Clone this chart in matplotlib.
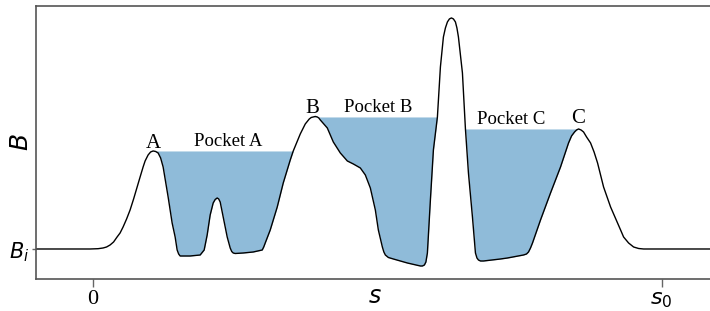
"""Sketch of the field strength B along s with three trapping pockets A, B and C."""

import matplotlib
matplotlib.use('Agg')
import matplotlib.pyplot as plt
import numpy as np

# B(s); s runs from 0 to s0 = 5.68, B_i = 1
s_vals = [-0.63, -0.03, 0.05, 0.10, 0.135, 0.17, 0.205, 0.24, 0.27, 0.30,
          0.335, 0.37, 0.405, 0.44, 0.47, 0.50, 0.52, 0.55, 0.575, 0.60,
          0.625, 0.65, 0.675, 0.70, 0.75, 0.79, 0.82, 0.84, 0.855, 0.87,
          0.90, 0.97, 1.07, 1.11, 1.14, 1.17, 1.20, 1.22, 1.24, 1.255,
          1.27, 1.30, 1.34, 1.37, 1.385, 1.40, 1.42, 1.50, 1.60, 1.69,
          1.705, 1.72, 1.77, 1.84, 1.90, 1.97, 2.00, 2.07, 2.12, 2.16,
          2.18, 2.20, 2.22, 2.24, 2.255, 2.27, 2.34, 2.40, 2.47, 2.54,
          2.60, 2.67, 2.72, 2.77, 2.82, 2.85, 2.89, 2.905, 2.92, 2.95,
          3.00, 3.14, 3.27, 3.29, 3.31, 3.325, 3.34, 3.37, 3.40, 3.44,
          3.47, 3.50, 3.52, 3.54, 3.56, 3.58, 3.60, 3.62, 3.635, 3.65,
          3.69, 3.72, 3.75, 3.79, 3.82, 3.835, 3.85, 3.87, 3.90, 4.07,
          4.14, 4.30, 4.33, 4.35, 4.37, 4.39, 4.47, 4.57, 4.67, 4.75,
          4.78, 4.81, 4.83, 4.85, 4.875, 4.90, 4.93, 4.97, 5.005, 5.04,
          5.07, 5.10, 5.135, 5.17, 5.205, 5.24, 5.27, 5.30, 5.35, 5.40,
          5.45, 5.50, 6.50]
b_vals = [1.00, 1.00, 1.003, 1.01, 1.02, 1.04, 1.07, 1.12, 1.16, 1.22,
          1.30, 1.39, 1.50, 1.62, 1.72, 1.82, 1.88, 1.94, 1.97, 1.98,
          1.975, 1.96, 1.91, 1.82, 1.52, 1.26, 1.12, 0.99, 0.95, 0.93,
          0.93, 0.93, 0.94, 0.99, 1.14, 1.34, 1.46, 1.495, 1.51, 1.50,
          1.47, 1.32, 1.12, 1.01, 0.975, 0.96, 0.955, 0.96, 0.97, 0.99,
          1.02, 1.06, 1.19, 1.42, 1.66, 1.89, 1.98, 2.15, 2.25, 2.30,
          2.315, 2.32, 2.325, 2.32, 2.31, 2.29, 2.21, 2.07, 1.96, 1.88,
          1.85, 1.81, 1.74, 1.61, 1.39, 1.19, 1.02, 0.97, 0.94, 0.915,
          0.90, 0.86, 0.83, 0.83, 0.84, 0.87, 0.96, 1.49, 1.99, 2.32,
          2.82, 3.12, 3.21, 3.27, 3.30, 3.31, 3.30, 3.27, 3.21, 3.12,
          2.76, 2.20, 1.76, 1.32, 0.96, 0.91, 0.89, 0.88, 0.88, 0.90,
          0.91, 0.94, 0.95, 0.97, 1.01, 1.06, 1.29, 1.56, 1.82, 2.06,
          2.13, 2.17, 2.19, 2.20, 2.19, 2.17, 2.12, 2.06, 1.97, 1.86,
          1.74, 1.62, 1.52, 1.42, 1.34, 1.26, 1.19, 1.12, 1.06, 1.02,
          1.005, 1.00, 1.00]

# pockets: water level and the stretch of s they fill
pocket_names = ['Pocket A', 'Pocket B', 'Pocket C']
pocket_level = [1.98, 2.32, 2.20]
pocket_start = [0.60, 2.20, 3.72]
pocket_end = [2.00, 3.44, 4.85]
pocket_label_s = [1.35, 2.845, 4.175]

# peaks bounding the pockets
peak_names = ['A', 'B', 'C']
peak_s = [0.60, 2.19, 4.85]
peak_label_b = [2.01, 2.36, 2.26]

s0 = 5.68
b_i = 1.0


def main():
    s = np.array(s_vals)
    b = np.array(b_vals)

    fig = plt.figure(figsize=(7.1, 3.11), dpi=100)
    ax = fig.add_axes([0.0507, 0.1029, 0.97, 0.878])

    for name, level, start, end, xs in zip(pocket_names, pocket_level,
                                           pocket_start, pocket_end,
                                           pocket_label_s):
        mask = (s >= start) & (s <= end)
        ax.fill_between(s, b, level, where=mask, interpolate=True,
                        color='#8fbbd9', lw=0)
        ax.text(xs, level + 0.05, name, ha='center', va='baseline',
                family='Liberation Serif', fontsize=13.5)

    ax.plot(s, b, color='black', lw=1.0)

    for name, xs, yb in zip(peak_names, peak_s, peak_label_b):
        ax.text(xs, yb, name, ha='center', va='baseline',
                family='Liberation Serif', fontsize=15)

    ax.set_xlim(-0.57, 6.31)
    ax.set_ylim(0.70, 3.43)

    ax.set_xticks([0, s0])
    ax.set_xticklabels(['0', '$s_0$'])
    ax.get_xticklabels()[0].set_family('Liberation Serif')
    ax.set_yticks([b_i])
    ax.set_yticklabels(['$B_i$'])

    ax.tick_params(axis='x', length=6, width=1, color='#666666',
                   labelsize=16, pad=2)
    ax.tick_params(axis='y', length=3, width=1, color='#666666',
                   labelsize=15, pad=2)

    for side in ['left', 'bottom', 'top']:
        ax.spines[side].set_color('#555555')
        ax.spines[side].set_linewidth(1.2)
    ax.spines['right'].set_visible(False)

    ax.set_xlabel('$s$', fontsize=17)
    ax.xaxis.set_label_coords(0.4927, -0.02)
    ax.set_ylabel('$B$', fontsize=18, va='center')
    ax.yaxis.set_label_coords(-0.022, 0.502)

    fig.savefig('out.png', dpi=100)


if __name__ == "__main__":
    main()
